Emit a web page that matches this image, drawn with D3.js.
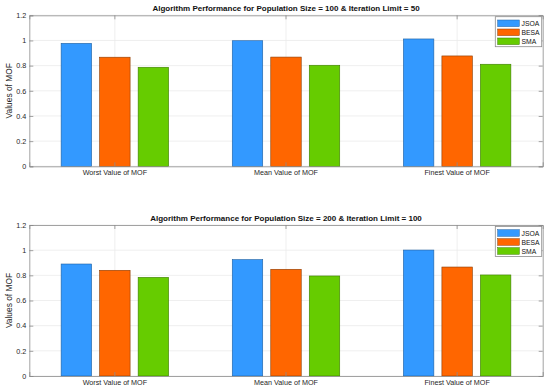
<!DOCTYPE html>
<html>
<head>
<meta charset="utf-8">
<script src="https://cdn.jsdelivr.net/npm/d3@7"></script>
<style>
  body { margin: 0; background: #fff; }
  svg { font-family: "Liberation Sans", Arial, sans-serif; }
</style>
</head>
<body>
<div id="root"></div>
<script>
var width = 550;
var height = 391;

// data
var categories = ["Worst Value of MOF", "Mean Value of MOF", "Finest Value of MOF"];
var algorithms = ["JSOA", "BESA", "SMA"];
var colors = ["#3399ff", "#ff6600", "#66cc00"];
var edgeColors = ["#1f5f9f", "#8a3a00", "#3d7a00"];
var yTicks = [0, 0.2, 0.4, 0.6, 0.8, 1, 1.2];

var titles = [
  "Algorithm Performance for Population Size = 100 & Iteration Limit = 50",
  "Algorithm Performance for Population Size = 200 & Iteration Limit = 100"
];
// values per algorithm, in category order
var jsoa1 = [0.977, 0.998, 1.012];
var besa1 = [0.867, 0.868, 0.877];
var sma1 = [0.787, 0.803, 0.811];
var jsoa2 = [0.890, 0.925, 1.001];
var besa2 = [0.840, 0.848, 0.866];
var sma2 = [0.784, 0.795, 0.803];

var panels = [
  { title: titles[0], series: [jsoa1, besa1, sma1], top: 15.3 },
  { title: titles[1], series: [jsoa2, besa2, sma2], top: 225 }
];

var svg = d3
  .select("#root")
  .append("svg")
  .attr("width", width)
  .attr("height", height);

var left = 29.3;
var right = 542.7;
var plotH = 151;

panels.forEach(function (p) {
  var g = svg.append("g");

  var xScale = d3.scaleBand().domain(categories).range([left, right]).padding(0);
  var yScale = d3.scaleLinear().domain([0, 1.2]).range([p.top + plotH, p.top]);
  var bw = xScale.bandwidth();

  // grid
  g.selectAll(".hgrid")
    .data(yTicks)
    .enter()
    .append("line")
    .attr("x1", left)
    .attr("x2", right)
    .attr("y1", (d) => yScale(d))
    .attr("y2", (d) => yScale(d))
    .attr("stroke", "#ebebeb")
    .attr("stroke-width", 0.8);
  g.selectAll(".vgrid")
    .data(categories)
    .enter()
    .append("line")
    .attr("x1", (d) => xScale(d) + bw / 2)
    .attr("x2", (d) => xScale(d) + bw / 2)
    .attr("y1", p.top)
    .attr("y2", p.top + plotH)
    .attr("stroke", "#ebebeb")
    .attr("stroke-width", 0.8);

  // bars
  var offsets = [-0.225, 0, 0.225];
  var barW = bw * 0.178;
  p.series.forEach(function (vals, s) {
    g.selectAll(".bar" + s)
      .data(vals)
      .enter()
      .append("rect")
      .attr("x", (d, i) => xScale(categories[i]) + bw / 2 + offsets[s] * bw - barW / 2)
      .attr("y", (d) => yScale(d))
      .attr("width", barW)
      .attr("height", (d) => yScale(0) - yScale(d))
      .attr("fill", colors[s])
      .attr("stroke", edgeColors[s])
      .attr("stroke-width", 0.6);
  });

  // axes
  var yAxis = d3.axisLeft(yScale).tickValues(yTicks).tickSize(-4).tickPadding(3).tickFormat(d3.format("~g"));
  var yAx = g.append("g").attr("transform", "translate(" + left + ",0)").call(yAxis);
  var yAxR = g.append("g").attr("transform", "translate(" + right + ",0)")
    .call(d3.axisRight(yScale).tickValues(yTicks).tickSize(-4).tickFormat(""));
  var xAx = g.append("g").attr("transform", "translate(0," + (p.top + plotH) + ")")
    .call(d3.axisBottom(xScale).tickSize(-4).tickPadding(4));
  var xAxT = g.append("g").attr("transform", "translate(0," + p.top + ")")
    .call(d3.axisTop(xScale).tickSize(-4).tickFormat(""));

  [yAx, yAxR, xAx, xAxT].forEach(function (a) {
    a.select(".domain").attr("stroke", "#8c8c8c").attr("stroke-width", 0.8);
    a.selectAll(".tick line").attr("stroke", "#8c8c8c").attr("stroke-width", 0.8);
    a.selectAll(".tick text").attr("fill", "#262626").attr("font-size", 7.2)
      .attr("font-family", "Liberation Sans, Arial, sans-serif");
  });

  // title
  g.append("text")
    .attr("x", (left + right) / 2)
    .attr("y", p.top - 4)
    .attr("text-anchor", "middle")
    .attr("font-size", 8)
    .attr("font-weight", "bold")
    .attr("fill", "#111")
    .text(p.title);

  // y label
  g.append("text")
    .attr("transform", "translate(12.3," + (p.top + plotH / 2) + ") rotate(-90)")
    .attr("text-anchor", "middle")
    .attr("font-size", 8.4)
    .attr("fill", "#262626")
    .text("Values of MOF");

  // legend
  var legend = g.append("g").attr("transform", "translate(495.3," + (p.top + 1.4) + ")");
  legend.append("rect")
    .attr("width", 46.4)
    .attr("height", 30)
    .attr("fill", "#fff")
    .attr("stroke", "#8c8c8c")
    .attr("stroke-width", 0.8);
  var items = legend.selectAll(".legend-item")
    .data(algorithms)
    .enter()
    .append("g")
    .attr("transform", (d, i) => "translate(0," + (6.6 + i * 9) + ")");
  items.append("rect")
    .attr("x", 2.4)
    .attr("y", -3.3)
    .attr("width", 21.6)
    .attr("height", 6.6)
    .attr("fill", (d, i) => colors[i])
    .attr("stroke", (d, i) => edgeColors[i])
    .attr("stroke-width", 0.5);
  items.append("text")
    .attr("x", 26.2)
    .attr("y", 2.5)
    .attr("font-size", 6.8)
    .attr("fill", "#111")
    .text((d) => d);
});
</script>
</body>
</html>
